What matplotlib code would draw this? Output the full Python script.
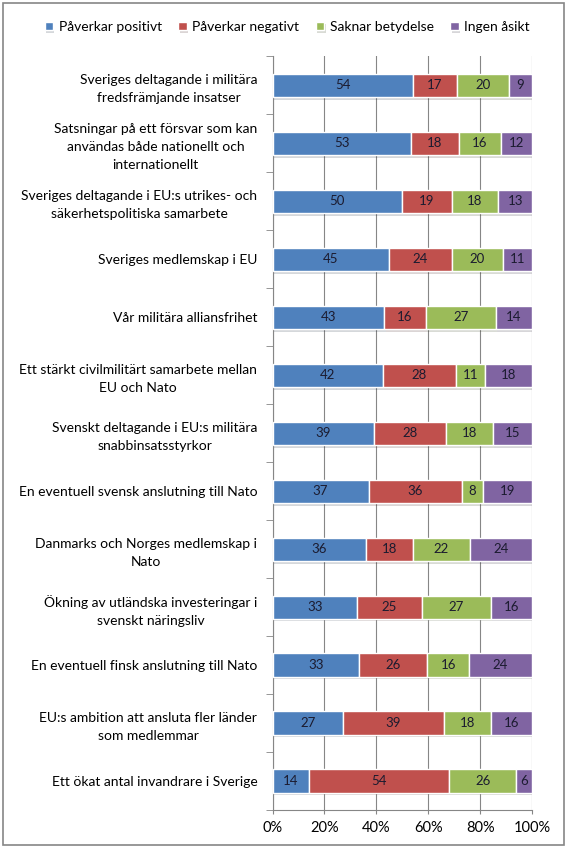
import matplotlib
matplotlib.use("Agg")
import matplotlib.pyplot as plt
from matplotlib.patches import Rectangle
from matplotlib import patheffects as pe
import numpy as np

plt.rcParams['font.family'] = ['Lato', 'DejaVu Sans']

categories = [
    "Sveriges deltagande i militära\nfredsfrämjande insatser",
    "Satsningar på ett försvar som kan\nanvändas både nationellt och\ninternationellt",
    "Sveriges deltagande i EU:s utrikes- och\nsäkerhetspolitiska samarbete",
    "Sveriges medlemskap i EU",
    "Vår militära alliansfrihet",
    "Ett stärkt civilmilitärt samarbete mellan\nEU och Nato",
    "Svenskt deltagande i EU:s militära\nsnabbinsatsstyrkor",
    "En eventuell svensk anslutning till Nato",
    "Danmarks och Norges medlemskap i\nNato",
    "Ökning av utländska investeringar i\nsvenskt näringsliv",
    "En eventuell finsk anslutning till Nato",
    "EU:s ambition att ansluta fler länder\nsom medlemmar",
    "Ett ökat antal invandrare i Sverige",
]

series_names = ["Påverkar positivt", "Påverkar negativt", "Saknar betydelse", "Ingen åsikt"]
positivt = [54, 53, 50, 45, 43, 42, 39, 37, 36, 33, 33, 27, 14]
negativt = [17, 18, 19, 24, 16, 28, 28, 36, 18, 25, 26, 39, 54]
saknar = [20, 16, 18, 20, 27, 11, 18, 8, 22, 27, 16, 18, 26]
ingen = [9, 12, 13, 11, 14, 18, 15, 19, 24, 16, 24, 16, 6]
colors = ["#4F81BD", "#C0504D", "#9BBB59", "#8064A2"]

values = np.array([positivt, negativt, saknar, ingen], dtype=float)
shares = values / values.sum(axis=0)  # 100% stacked

fig = plt.figure(figsize=(5.69, 8.47), dpi=100)
ax = fig.add_axes([0.479, 0.0437, 0.456, 0.8896])

y = np.arange(len(categories))
left = np.zeros(len(categories))
for i in range(4):
    bars = ax.barh(y, shares[i], left=left, height=0.4, color=colors[i],
                   edgecolor="white", linewidth=1, label=series_names[i], zorder=3)
    for b in bars:
        b.set_path_effects([pe.SimplePatchShadow(offset=(1, -2), alpha=0.18), pe.Normal()])
    for yy, l, w, v in zip(y, left, shares[i], values[i]):
        ax.text(l + w / 2, yy, f"{int(v)}", ha="center", va="center",
                fontsize=9.5, color="#1b1b2f", zorder=4)
    left += shares[i]

ax.set_xlim(0, 1)
ax.set_ylim(len(categories) - 0.5, -0.5)
ax.set_xticks(np.arange(0, 1.01, 0.2))
ax.set_xticklabels([f"{int(t*100)}%" for t in np.arange(0, 1.01, 0.2)], fontsize=10.5)
ax.set_yticks(y)
ax.set_yticklabels(categories, fontsize=10, multialignment="center", linespacing=1.6)
ax.set_yticks(np.arange(-0.5, len(categories), 1), minor=True)
ax.tick_params(axis="y", which="major", length=0, pad=11)
ax.tick_params(axis="y", which="minor", length=5, color="#868686", direction="out")
ax.tick_params(axis="x", length=3, color="#868686", direction="out", pad=5)
ax.grid(axis="x", color="#868686", linewidth=0.8, zorder=0)
for s in ["top", "right"]:
    ax.spines[s].set_visible(False)
for s in ["left", "bottom"]:
    ax.spines[s].set_color("#868686")

fig.legend(loc="upper center", bbox_to_anchor=(0.505, 0.99), ncol=4, frameon=False,
           fontsize=10, handlelength=0.6, handleheight=0.6, handletextpad=0.4,
           columnspacing=1.2)

fig.patches.append(Rectangle((3 / 569, 2 / 847), 561 / 569, 842 / 847, transform=fig.transFigure,
                             fill=False, edgecolor="#868686", linewidth=1.2))

fig.savefig("out.png", dpi=100)
